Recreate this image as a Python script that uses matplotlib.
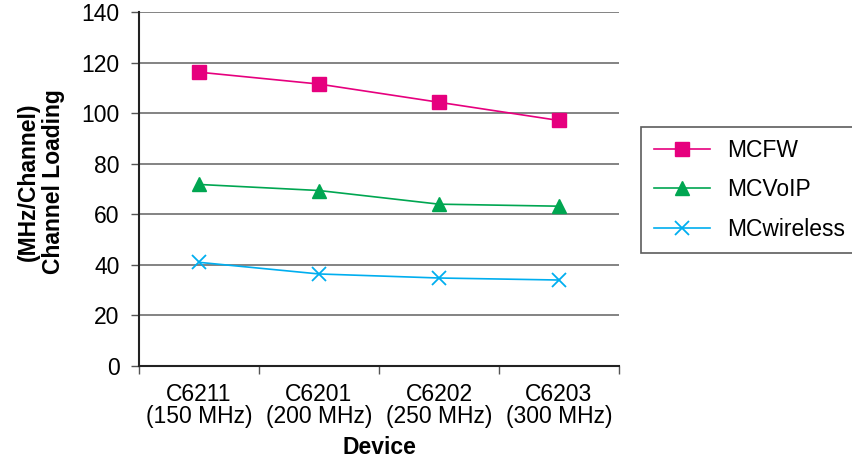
import matplotlib
matplotlib.use("Agg")
import matplotlib.pyplot as plt
from matplotlib.ticker import FixedLocator

plt.rcParams['font.family'] = ['Liberation Sans', 'DejaVu Sans']

categories = ["C6211\n(150 MHz)", "C6201\n(200 MHz)", "C6202\n(250 MHz)", "C6203\n(300 MHz)"]
mcfw = [116.2, 111.5, 104.3, 97.1]
mcvoip = [71.8, 69.4, 64.0, 63.2]
mcwireless = [41.0, 36.4, 34.8, 34.0]
yticks = [0, 20, 40, 60, 80, 100, 120, 140]

FS = 16.5

fig = plt.figure(figsize=(8.53, 4.59), dpi=100)
ax = fig.add_axes([139/853, 1-366/459, (619-139)/853, (366-12)/459])

x = list(range(len(categories)))
ax.plot(x, mcfw, color='#E6007E', marker='s', markersize=10, lw=1.2, label='MCFW')
ax.plot(x, mcvoip, color='#00A651', marker='^', markersize=10, lw=1.2, label='MCVoIP')
ax.plot(x, mcwireless, color='#00AEEF', marker='x', markersize=10, mew=1.3, lw=1.2, label='MCwireless')

ax.set_xlim(-0.5, len(categories) - 0.5)
ax.set_ylim(0, 140)
ax.set_yticks(yticks)
ax.set_xticks(x)
ax.set_xticklabels(categories, fontsize=FS, linespacing=0.95)
ax.xaxis.set_minor_locator(FixedLocator([i - 0.5 for i in range(len(categories) + 1)]))
ax.tick_params(axis='x', which='major', length=0, pad=12)
ax.tick_params(axis='x', which='minor', length=6, width=1, color='#555555')
ax.tick_params(axis='y', length=6, width=1, color='#555555', labelsize=FS, pad=8)

ax.grid(axis='y', color='#6e6e6e', lw=1.2)
ax.set_axisbelow(True)
for s in ['top', 'right']:
    ax.spines[s].set_visible(False)
for s in ['left', 'bottom']:
    ax.spines[s].set_color('#222222')
    ax.spines[s].set_linewidth(1.5)

ax.set_xlabel('Device', fontsize=FS, fontweight='bold', labelpad=6)
ax.set_ylabel('(MHz/Channel)\nChannel Loading', fontsize=FS, fontweight='bold', linespacing=1.1)
ax.yaxis.set_label_coords(-0.155, 0.52)

leg = fig.legend(loc='center left', bbox_to_anchor=(641/853, 1-190/459), fontsize=FS,
                 frameon=True, fancybox=False, edgecolor='#333333', handlelength=2.45,
                 labelspacing=0.7, borderpad=0.55, handletextpad=0.75, borderaxespad=0)
leg.get_frame().set_linewidth(1.2)

fig.savefig('out.png', dpi=100)
